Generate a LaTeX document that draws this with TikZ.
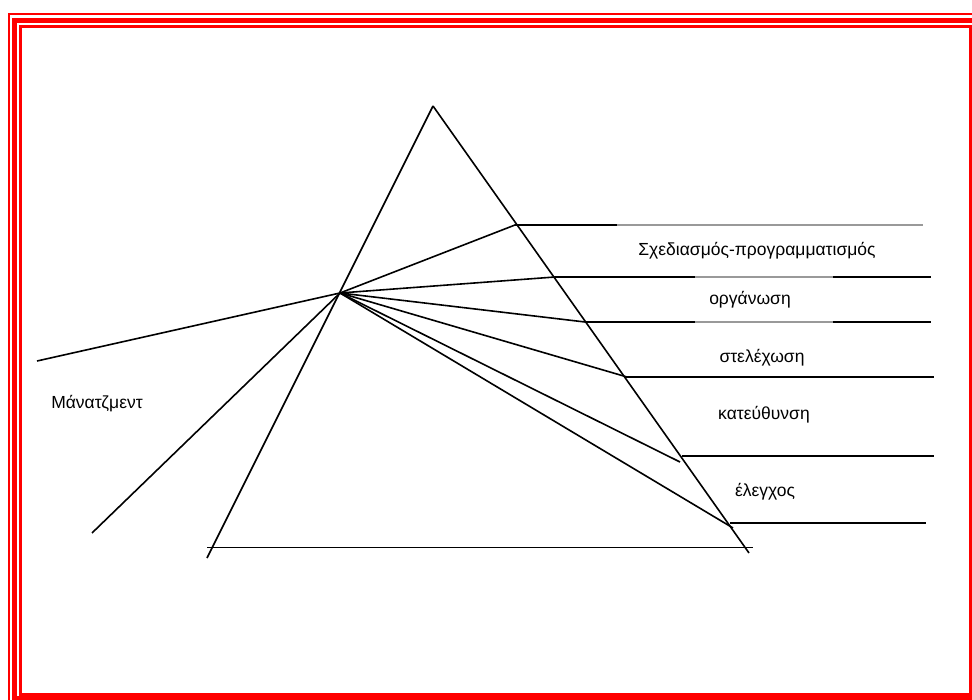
\documentclass[tikz,border=0pt]{standalone}
\usepackage{fontspec}
\setmainfont{Liberation Sans}
\begin{document}
\begin{tikzpicture}[x=1pt,y=-1pt,
  ln/.style={line width=1.6pt, black},
  gl/.style={line width=1.6pt, black!40},
  lbl/.style={font=\fontsize{17.5}{20}\selectfont, inner sep=0pt, anchor=center},
  frm/.style={draw=red}]
\useasboundingbox (0,0) rectangle (972,700);
\clip (0,0) rectangle (972,700);
\fill[white] (0,0) rectangle (972,700);
% frame
\draw[frm, line width=2pt] (9,14) rectangle (985,712);
\draw[frm, line width=4.5pt] (14.5,20.5) rectangle (977.5,698);
\draw[frm, line width=3pt] (20.5,26.5) rectangle (970.5,694);
% coordinates
\coordinate (apex) at (433,106);
\coordinate (bl) at (207,558);
\coordinate (br) at (749,553);
\coordinate (base1) at (207,547.5);
\coordinate (base2) at (753,547.5);
\coordinate (F) at (340,293);
\coordinate (in1) at (37,361);
\coordinate (in2) at (92,533);
\coordinate (r1) at (515,225);
\coordinate (g1) at (617,225);
\coordinate (h1) at (923,225);
\coordinate (r2) at (555,277);
\coordinate (g2a) at (695,277);
\coordinate (g2b) at (833,277);
\coordinate (h2) at (931,277);
\coordinate (r3) at (585,322);
\coordinate (g3a) at (695,322);
\coordinate (g3b) at (833,322);
\coordinate (h3) at (931,322);
\coordinate (r4) at (627,377);
\coordinate (s4) at (625,377);
\coordinate (h4) at (934,377);
\coordinate (r5) at (680,462);
\coordinate (s5) at (682,456);
\coordinate (h5) at (934,456);
\coordinate (r6) at (733,528);
\coordinate (s6) at (730,523);
\coordinate (h6) at (926,523);
% prism
\draw[ln] (apex) -- (bl);
\draw[ln] (apex) -- (br);
\draw[ln] (base1) -- (base2);
% incoming
\draw[ln] (in1) -- (F);
\draw[ln] (in2) -- (F);
% rays
\draw[ln] (F) -- (r1) -- (g1);
\draw[gl] (g1) -- (h1);
\draw[ln] (F) -- (r2) -- (g2a);
\draw[gl] (g2a) -- (g2b);
\draw[ln] (g2b) -- (h2);
\draw[ln] (F) -- (r3) -- (g3a);
\draw[gl] (g3a) -- (g3b);
\draw[ln] (g3b) -- (h3);
\draw[ln] (F) -- (r4);
\draw[ln] (s4) -- (h4);
\draw[ln] (F) -- (r5);
\draw[ln] (s5) -- (h5);
\draw[ln] (F) -- (r6);
\draw[ln] (s6) -- (h6);
% labels
\node[lbl] (t1) at (757,251) {Σχεδιασμός-προγραμματισμός};
\node[lbl] (t2) at (750,300) {οργάνωση};
\node[lbl] (t3) at (762,358) {στελέχωση};
\node[lbl] (t4) at (764,415) {κατεύθυνση};
\node[lbl] (t5) at (765,492) {έλεγχος};
\node[lbl] (t0) at (97,404) {Μάνατζμεντ};
\end{tikzpicture}
\end{document}
